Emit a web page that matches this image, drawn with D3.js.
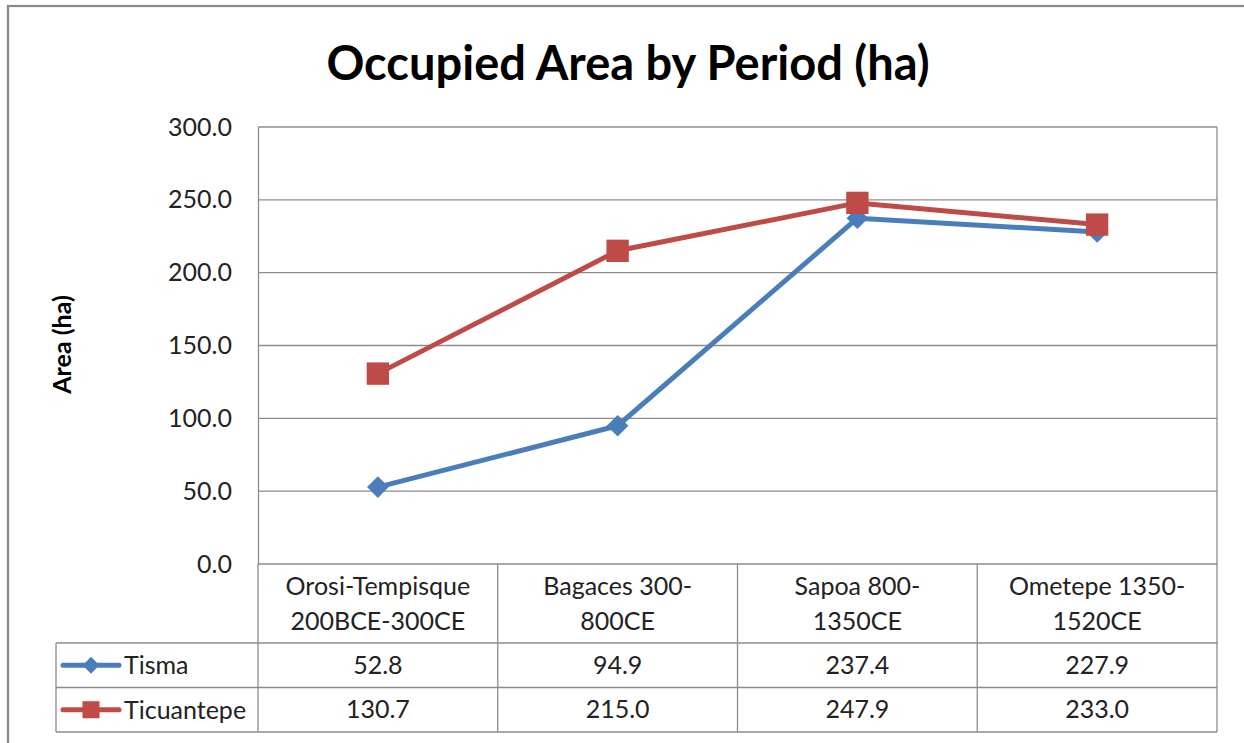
<!DOCTYPE html>
<html>
<head>
<meta charset="utf-8">
<script src="https://cdn.jsdelivr.net/npm/d3@7"></script>
<style>
  html, body { margin: 0; padding: 0; background: #fff; }
  svg { display: block; font-family: Lato, "Open Sans", sans-serif; }
</style>
</head>
<body>
<svg id="chart" width="1244" height="743"></svg>
<script>
// Occupied area (ha) per period for two settlement zones
const categories = [
  ["Orosi-Tempisque", "200BCE-300CE"],
  ["Bagaces 300-", "800CE"],
  ["Sapoa 800-", "1350CE"],
  ["Ometepe 1350-", "1520CE"]
];
const seriesNames = ["Tisma", "Ticuantepe"];
const tismaValues = [52.8, 94.9, 237.4, 227.9];
const ticuantepeValues = [130.7, 215.0, 247.9, 233.0];
const yTicks = [0, 50, 100, 150, 200, 250, 300];
const colors = ["#4A7EBB", "#BE4B48"];

const series = [
  { name: seriesNames[0], values: tismaValues, color: colors[0], shape: "diamond" },
  { name: seriesNames[1], values: ticuantepeValues, color: colors[1], shape: "square" }
];

const svg = d3.select("#chart");
const plot = { left: 258, right: 1217, top: 127, bottom: 564 };
const table = { left: 56, catBottom: 643, rowH: 44.5 };
const fontSize = 25;
const textColor = "#222";

// outer chart frame
svg.append("rect")
  .attr("x", 8).attr("y", 6).attr("width", 1250).attr("height", 760)
  .attr("fill", "none").attr("stroke", "#888").attr("stroke-width", 2.2);

svg.append("text")
  .attr("x", 628).attr("y", 80)
  .attr("text-anchor", "middle")
  .attr("font-size", 47).attr("font-weight", "bold").attr("fill", "#000")
  .text("Occupied Area by Period (ha)");

const x = d3.scaleBand()
  .domain(d3.range(categories.length))
  .range([plot.left, plot.right]);
const y = d3.scaleLinear().domain([0, 300]).range([plot.bottom, plot.top]);

// horizontal gridlines
svg.append("g").selectAll("line").data(yTicks).join("line")
  .attr("x1", plot.left).attr("x2", plot.right)
  .attr("y1", d => y(d)).attr("y2", d => y(d))
  .attr("stroke", "#8c8c8c").attr("stroke-width", 1.3);

// y axis
const yAxis = svg.append("g")
  .attr("transform", `translate(${plot.left},0)`)
  .call(d3.axisLeft(y).tickValues(yTicks).tickFormat(d3.format(".1f")).tickSize(0).tickPadding(26));
yAxis.select(".domain").attr("stroke", "#8c8c8c").attr("stroke-width", 1.3);
yAxis.selectAll("text").attr("font-size", fontSize).attr("fill", textColor)
  .attr("font-family", "Lato, 'Open Sans', sans-serif");

svg.append("text")
  .attr("transform", `translate(71,${(plot.top + plot.bottom) / 2 - 1}) rotate(-90)`)
  .attr("text-anchor", "middle")
  .attr("font-size", 25).attr("font-weight", "bold")
  .text("Area (ha)");

// data table grid
const gridColor = "#8c8c8c";
const tableBottom = table.catBottom + table.rowH * 2;
const tg = svg.append("g").attr("stroke", gridColor).attr("stroke-width", 1.3);
tg.append("line").attr("x1", plot.right).attr("x2", plot.right).attr("y1", plot.top).attr("y2", tableBottom);
x.domain().forEach(i => {
  tg.append("line").attr("x1", x(i)).attr("x2", x(i)).attr("y1", plot.bottom).attr("y2", tableBottom);
});
tg.append("line").attr("x1", table.left).attr("x2", table.left).attr("y1", table.catBottom).attr("y2", tableBottom);
[table.catBottom, table.catBottom + table.rowH, tableBottom].forEach(yy => {
  tg.append("line").attr("x1", table.left).attr("x2", plot.right).attr("y1", yy).attr("y2", yy);
});

// category labels
const catG = svg.append("g").attr("font-size", fontSize).attr("fill", textColor).attr("text-anchor", "middle");
categories.forEach((lines, i) => {
  lines.forEach((t, k) => {
    catG.append("text")
      .attr("x", x(i) + x.bandwidth() / 2)
      .attr("y", 595 + k * 35)
      .text(t);
  });
});

const diamond = d3.symbol().type(d3.symbolDiamond2).size(300);
const square = d3.symbol().type(d3.symbolSquare).size(500);

// value rows with legend keys
series.forEach((s, r) => {
  const rowMid = table.catBottom + table.rowH * (r + 0.5);
  const key = svg.append("g").attr("transform", `translate(0,${rowMid})`);
  key.append("line").attr("x1", 63).attr("x2", 119).attr("y1", 0).attr("y2", 0)
    .attr("stroke", s.color).attr("stroke-width", 5).attr("stroke-linecap", "round");
  key.append("path")
    .attr("transform", "translate(91,0)")
    .attr("d", s.shape === "diamond" ? d3.symbol().type(d3.symbolDiamond2).size(180)() : d3.symbol().type(d3.symbolSquare).size(290)())
    .attr("fill", s.color);
  key.append("text").attr("x", 124).attr("y", 9).attr("font-size", fontSize).attr("fill", textColor).text(s.name);

  svg.append("g").selectAll("text").data(s.values).join("text")
    .attr("x", (d, i) => x(i) + x.bandwidth() / 2)
    .attr("y", rowMid + 8.5)
    .attr("text-anchor", "middle").attr("font-size", fontSize).attr("fill", textColor)
    .text(d => d3.format(".1f")(d));
});

// lines and markers
const line = d3.line()
  .x((d, i) => x(i) + x.bandwidth() / 2)
  .y(d => y(d));

series.forEach(s => {
  svg.append("path").datum(s.values)
    .attr("d", line)
    .attr("fill", "none").attr("stroke", s.color)
    .attr("stroke-width", 5).attr("stroke-linejoin", "round");
});
series.forEach(s => {
  svg.append("g").selectAll("path").data(s.values).join("path")
    .attr("transform", (d, i) => `translate(${x(i) + x.bandwidth() / 2},${y(d)})`)
    .attr("d", s.shape === "diamond" ? diamond() : square())
    .attr("fill", s.color);
});
</script>
</body>
</html>
